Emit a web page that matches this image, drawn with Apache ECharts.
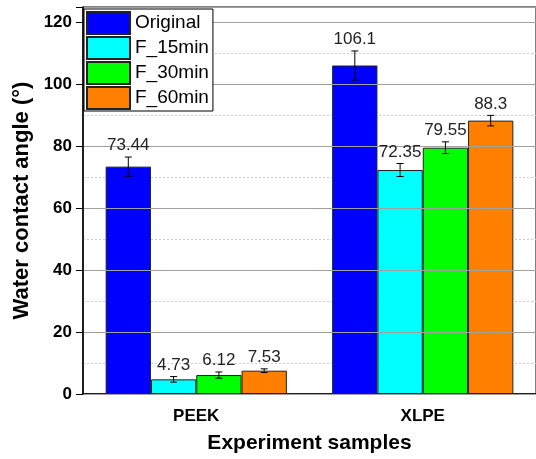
<!DOCTYPE html>
<html>
<head>
<meta charset="utf-8">
<script src="https://cdn.jsdelivr.net/npm/echarts@6/dist/echarts.min.js"></script>
<style>
    html, body { margin: 0; padding: 0; background: #fff; }
    #chart { width: 536px; height: 459px; }
</style>
</head>
<body>
<div id="chart"></div>
<script>
var categories = ["PEEK", "XLPE"];
var seriesNames = ["Original", "F_15min", "F_30min", "F_60min"];
var original = [73.44, 106.1];
var f15 = [4.73, 72.35];
var f30 = [6.12, 79.55];
var f60 = [7.53, 88.3];
var originalErr = [3.1, 4.7];
var f15Err = [0.9, 2.1];
var f30Err = [1.0, 1.9];
var f60Err = [0.6, 1.7];
var yTicks = [0, 20, 40, 60, 80, 100, 120];

var colors = ["#0000ff", "#00ffff", "#00ff00", "#ff8000"];
var values = [original, f15, f30, f60];
var errors = [originalErr, f15Err, f30Err, f60Err];
var font = "Arial, 'Liberation Sans', sans-serif";

// error bars + value labels, one item per bar
var errData = [];
values.forEach(function (arr, s) {
    arr.forEach(function (v, c) {
        errData.push([c, v, errors[s][c], s]);
    });
});

// dashed minor grid: lines at 10, 30 ... 110 only (ticks every 10 up to 125)
var minorColors = [];
for (var t = 0; t <= 120; t += 10) {
    minorColors.push(t % 20 === 10 ? "#cccccc" : "rgba(0,0,0,0)");
}
minorColors.push("rgba(0,0,0,0)");

var chart = echarts.init(document.getElementById("chart"));

var barSeries = seriesNames.map(function (name, i) {
    return {
        name: name,
        type: "bar",
        data: values[i],
        barGap: "0%",
        barCategoryGap: "20%",
        itemStyle: { color: colors[i], borderColor: "#222", borderWidth: 1 },
    };
});

barSeries.push({
    type: "custom",
    z: 5,
    data: errData,
    encode: { x: 0, y: 1 },
    renderItem: function (params, api) {
        var c = api.value(0);
        var v = api.value(1);
        var e = api.value(2);
        var s = api.value(3);
        var band = api.size([1, 0])[0];
        var bw = (band * 0.8) / 4;
        var x = api.coord([c, v])[0] + (s - 1.5) * bw;
        var yHi = api.coord([c, v + e])[1];
        var yLo = api.coord([c, v - e])[1];
        var cap = 3.5;
        var ls = { stroke: "#000", lineWidth: 1 };
        return {
            type: "group",
            children: [
                { type: "line", shape: { x1: x, y1: yHi, x2: x, y2: yLo }, style: ls },
                { type: "line", shape: { x1: x - cap, y1: yHi, x2: x + cap, y2: yHi }, style: ls },
                { type: "line", shape: { x1: x - cap, y1: yLo, x2: x + cap, y2: yLo }, style: ls },
                {
                    type: "text",
                    style: {
                        text: String(v),
                        x: x,
                        y: yHi - 3,
                        align: "center",
                        verticalAlign: "bottom",
                        fill: "#222",
                        font: "17px " + font,
                    },
                },
            ],
        };
    },
});

var option = {
    animation: false,
    backgroundColor: "#fff",
    grid: {
        left: 83,
        top: 7,
        right: -4,
        bottom: 61,
        show: true,
        borderColor: "#000",
        borderWidth: 1,
    },
    legend: {
        data: seriesNames,
        orient: "vertical",
        left: 84,
        top: 9,
        itemWidth: 43,
        itemHeight: 22,
        itemGap: 1,
        padding: [2, 4, 1, 2],
        backgroundColor: "#fff",
        borderColor: "#000",
        borderWidth: 1,
        borderRadius: 0,
        icon: "rect",
        textStyle: { fontSize: 19, lineHeight: 22, color: "#000", fontFamily: font },
    },
    xAxis: {
        type: "category",
        data: categories,
        name: "Experiment samples",
        nameLocation: "middle",
        nameGap: 39,
        nameTextStyle: { fontSize: 21, fontWeight: "bold", color: "#000", fontFamily: font },
        axisLine: { lineStyle: { color: "#000", width: 1.5 } },
        axisTick: { alignWithLabel: true, length: 7, lineStyle: { color: "#000" } },
        axisLabel: { fontSize: 17, fontWeight: "bold", color: "#000", margin: 14, fontFamily: font },
    },
    yAxis: [
        {
            type: "value",
            min: 0,
            max: 125,
            interval: 20,
            name: "Water contact angle (°)",
            nameLocation: "middle",
            nameGap: 37,
            nameTextStyle: { fontSize: 22, fontWeight: "bold", color: "#000", fontFamily: font },
            axisLine: { show: true, lineStyle: { color: "#000", width: 1.5 } },
            axisTick: { show: true, length: 7, lineStyle: { color: "#000" } },
            axisLabel: {
                fontSize: 17,
                fontWeight: "bold",
                color: "#000",
                margin: 11,
                fontFamily: font,
                formatter: function (v) {
                    return yTicks.indexOf(v) >= 0 ? String(v) : "";
                },
            },
            splitLine: { show: true, lineStyle: { color: "#a0a0a0", width: 1 } },
            z: 3,
        },
        {
            type: "value",
            position: "left",
            min: 0,
            max: 125,
            interval: 10,
            axisLine: { show: false },
            axisTick: { show: false },
            axisLabel: { show: false },
            splitLine: { show: true, lineStyle: { color: minorColors, type: [2, 2] } },
            z: 1,
        },
    ],
    series: barSeries,
};

chart.setOption(option);
</script>
</body>
</html>
